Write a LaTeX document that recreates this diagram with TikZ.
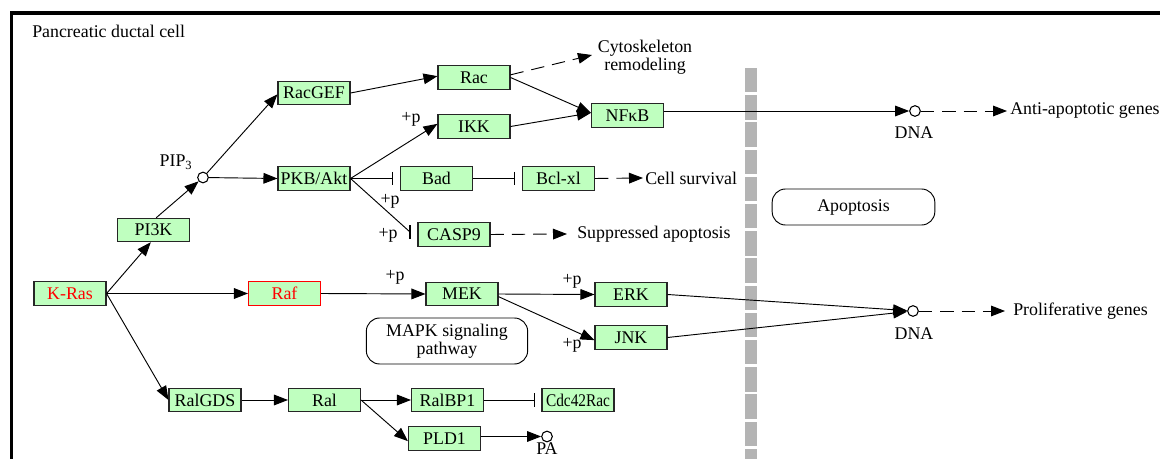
\documentclass[tikz,border=0pt]{standalone}
\usepackage{fontspec}
\usepackage{graphicx}
\setmainfont{Liberation Serif}
\usetikzlibrary{arrows.meta,calc}
\definecolor{kgreen}{RGB}{191,255,191}
\definecolor{kgray}{RGB}{180,180,180}
\begin{document}
\begin{tikzpicture}[x=0.75pt,y=-0.75pt,
  every node/.style={font=\fontsize{13.4}{14}\selectfont},
  gene/.style={draw=black!85, line width=0.8pt, fill=kgreen, minimum width=54pt, minimum height=17.5pt, inner sep=0pt},
  cir/.style={circle, draw=black, line width=0.8pt, fill=white, minimum size=8pt, inner sep=0pt},
  lbl/.style={inner sep=0pt},
  txt/.style={inner sep=0pt, anchor=west},
  oval/.style={draw=black, line width=0.7pt, fill=white, rounded corners=10pt, align=center, inner sep=0pt},
  conn/.style={line width=0.7pt},
  arr/.style={conn, -{Triangle[length=10.5pt,width=8pt]}},
  darr/.style={conn, dash pattern=on 10pt off 6pt, -{Triangle[length=10.5pt,width=8pt]}},
  inh/.style={conn, -{Bar[width=10pt,line width=0.8pt]}}
]
\useasboundingbox (0,0) rectangle (1160,459);
% frame
\draw[line width=2.8pt] (11.5,475) -- (11.5,13) -- (1175,13);
\node[txt] (title) at (32,31) {Pancreatic ductal cell};
% membrane (gray dashed bar)
\foreach \k in {0,...,14} {
  \fill[kgray] (745,{68+27.2*\k}) rectangle (757,{68+27.2*\k+24.5});
}
% nodes
\node[gene] (kras) at (70,293.5) {\textcolor{red}{K-Ras}};
\node[gene, draw=red] (raf) at (284.5,293.5) {\textcolor{red}{Raf}};
\node[gene] (pi3k) at (153.5,230) {PI3K};
\node[cir] (pip3) at (203,177.5) {};
\node[lbl] (pip3l) at (176,162) {PIP\textsubscript{3}};
\node[gene] (racgef) at (314,93) {RacGEF};
\node[gene] (pkb) at (314,178.5) {PKB/Akt};
\node[gene] (rac) at (474,77.5) {Rac};
\node[gene] (ikk) at (474,126.5) {IKK};
\node[gene] (nfkb) at (627.5,115.5) {NFκB};
\node[gene] (bad) at (436.5,178.5) {Bad};
\node[gene] (bcl) at (558.5,178.5) {Bcl-xl};
\node[gene] (casp9) at (454,234.5) {CASP9};
\node[gene] (mek) at (462,294) {MEK};
\node[gene] (erk) at (631,294.5) {ERK};
\node[gene] (jnk) at (631,337.5) {JNK};
\node[gene] (ralgds) at (205,400) {RalGDS};
\node[gene] (ral) at (324.5,400) {Ral};
\node[gene] (ralbp1) at (447.5,400) {RalBP1};
\node[gene] (cdc) at (578,400) {\scalebox{0.86}[1]{Cdc42Rac}};
\node[gene] (pld1) at (444.5,438.5) {PLD1};
\node[cir] (pa) at (547,436.5) {};
\node[lbl] (pal) at (547,449) {PA};
\node[cir] (dna1) at (915,111) {};
\node[lbl] (dna1l) at (914,133) {DNA};
\node[cir] (dna2) at (913,311) {};
\node[lbl] (dna2l) at (914,334) {DNA};
\node[oval, minimum width=122pt, minimum height=27pt] (apop) at (853.5,207) {Apoptosis};
\node[oval, minimum width=121pt, minimum height=34.5pt, font=\fontsize{13.4}{12}\selectfont] (mapk) at (447,341) {MAPK signaling\\pathway};
\node[lbl, align=center, font=\fontsize{13.4}{11}\selectfont] (cyto) at (645,57) {Cytoskeleton\\remodeling};
\node[txt] (surv) at (645,178) {Cell survival};
\node[txt] (supp) at (577,234) {Suppressed apoptosis};
\node[txt] (anti) at (1010,111) {Anti-apoptotic genes};
\node[txt] (prol) at (1013,311) {Proliferative genes};
% +p labels
\node[lbl] (p1) at (411,119) {+p};
\node[lbl] (p2) at (390,201) {+p};
\node[lbl] (p3) at (388,235) {+p};
\node[lbl] (p4) at (395,277) {+p};
\node[lbl] (p5) at (572,281) {+p};
\node[lbl] (p6) at (572,345) {+p};
% free ends
\coordinate (cytoend) at (592,55);
\coordinate (survend) at (643,178);
\coordinate (suppend) at (567,234);
\coordinate (antiend) at (1007,111);
\coordinate (prolend) at (1005,311);
\coordinate (cbar) at (410,232);
% connectors
\draw[arr] (kras.east) -- ([xshift=-2pt]pi3k.south);
\draw[arr] (kras.east) -- (raf.west);
\draw[arr] (kras.east) -- (ralgds.west);
\draw[arr] ([xshift=2pt]pi3k.north) -- (pip3);
\draw[arr] (pip3) -- ([yshift=-1pt]racgef.west);
\draw[arr] (pip3) -- (pkb.west);
\draw[arr] (racgef.east) -- ([yshift=1pt]rac.west);
\draw[arr] (rac.east) -- ([yshift=2pt]nfkb.west);
\draw[arr] (ikk.east) -- ([yshift=2pt]nfkb.west);
\draw[arr] (pkb.east) -- ([yshift=2pt]ikk.west);
\draw[inh] (pkb.east) -- ([xshift=-5pt]bad.west);
\draw[inh] (bad.east) -- ([xshift=-5pt]bcl.west);
\draw[conn] (pkb.east) -- (cbar);
\draw[conn, line width=0.8pt] ([yshift=5pt]cbar) -- ([yshift=-5pt]cbar);
\draw[darr] ([yshift=2pt]rac.east) -- (cytoend);
\draw[darr] (bcl.east) -- (survend);
\draw[darr] (casp9.east) -- (suppend);
\draw[arr] (nfkb.east |- dna1) -- (dna1);
\draw[darr] (dna1) -- (antiend);
\draw[arr] (raf.east) -- (mek.west);
\draw[arr] (mek.east) -- (erk.west);
\draw[arr] ([yshift=-2pt]mek.east) -- ([yshift=-2pt]jnk.west);
\draw[arr] (erk.east) -- (dna2);
\draw[arr] (jnk.east) -- (dna2);
\draw[darr] (dna2) -- (prolend);
\draw[arr] (ralgds) -- (ral);
\draw[arr] (ral.east) -- (ralbp1.west);
\draw[arr] (ral.east) -- ([yshift=-2pt]pld1.west);
\draw[inh] (ralbp1.east) -- ([xshift=-5pt]cdc.west);
\draw[arr] (pld1.east |- pa) -- (pa);
\end{tikzpicture}
\end{document}
